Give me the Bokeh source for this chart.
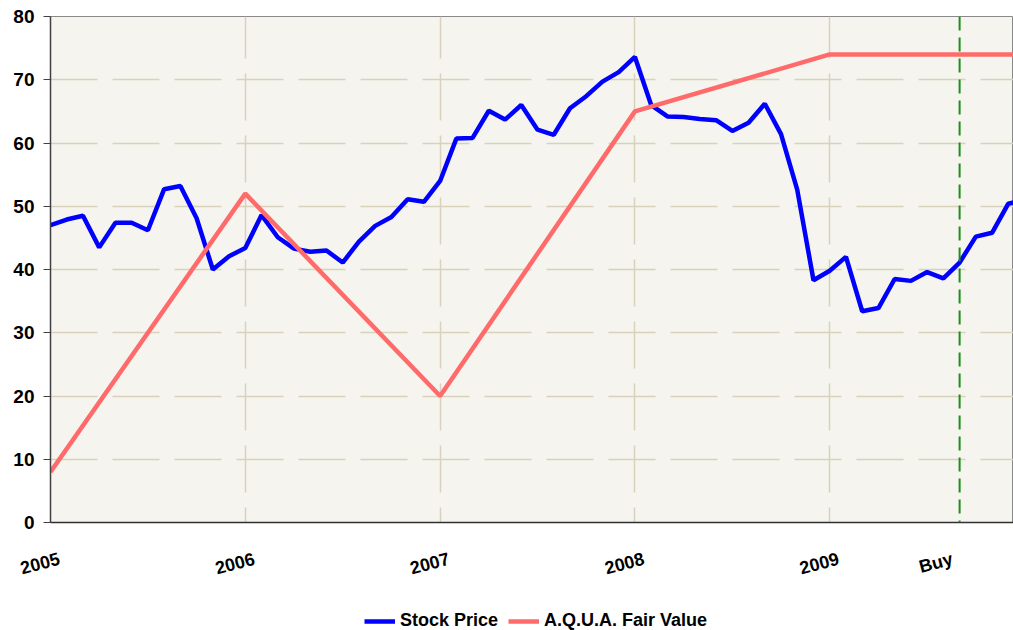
from bokeh.plotting import figure
from bokeh.layouts import column
from bokeh.models import FixedTicker, Span, Legend, LegendItem, Range1d
from bokeh.embed import file_html
from bokeh.resources import INLINE

# Monthly stock price, Jan 2005 .. Jan 2010 (x = months since Jan 2005)
stock_price = [47.0, 47.9, 48.5, 43.5, 47.4, 47.4, 46.2, 52.7, 53.2, 48.1, 40.0, 42.1,
               43.4, 48.6, 45.1, 43.3, 42.8, 43.0, 41.1, 44.4, 46.9, 48.3, 51.1, 50.7,
               54.0, 60.7, 60.8, 65.1, 63.7, 66.0, 62.1, 61.3, 65.5, 67.4, 69.7, 71.2,
               73.6, 66.0, 64.2, 64.1, 63.8, 63.6, 61.9, 63.2, 66.2, 61.4, 52.6, 38.3,
               39.8, 42.0, 33.4, 33.9, 38.5, 38.2, 39.6, 38.6, 41.1, 45.2, 45.8, 50.4,
               51.0]
stock_months = list(range(len(stock_price)))

fair_months = [0, 12, 24, 36, 48, 60]
fair_value = [8, 52, 20, 65, 74, 74]

tick_months = [0, 12, 24, 36, 48, 55]
tick_labels = ["2005", "2006", "2007", "2008", "2009", "Buy"]
buy_month = 56
y_ticks = [0, 10, 20, 30, 40, 50, 60, 70, 80]

FONT = "Liberation Sans"
BLUE, SALMON = "#0000FF", "#FF6B6B"

W, H, LEG_H = 1013, 600, 30
LEFT, TOP = 50, 16
FRAME_H = 506
X_END = 59.32
px_per_month = (W - LEFT) / X_END
label_shift = 9 / px_per_month  # rotated labels sit a little right of their tick

p = figure(width=W, height=H, output_backend="svg", toolbar_location=None,
           x_range=Range1d(0, X_END), y_range=Range1d(0, 80),
           min_border_left=LEFT, min_border_right=0, min_border_top=TOP,
           min_border_bottom=H - TOP - FRAME_H)

p.background_fill_color = "#F5F4EE"
p.border_fill_color = "white"
p.outline_line_color = "#888888"
p.outline_line_width = 1

# grids
p.xgrid.ticker = FixedTicker(ticks=[12, 24, 36, 48])
p.ygrid.ticker = FixedTicker(ticks=[10, 20, 30, 40, 50, 60, 70])
for g in (p.xgrid, p.ygrid):
    g.grid_line_color = "#D8D2BC"
    g.grid_line_width = 1.5
    g.grid_line_dash = "47 15"
p.xgrid.grid_line_dash_offset = 32

# y axis
p.yaxis.ticker = FixedTicker(ticks=y_ticks)
p.yaxis.major_tick_out = 7
p.yaxis.major_tick_in = 0
p.yaxis.minor_tick_line_color = None
p.yaxis.axis_line_color = "#404040"
p.yaxis.axis_line_width = 1.5
p.yaxis.major_tick_line_color = "#404040"
p.yaxis.major_label_standoff = 9
p.yaxis.major_label_text_font = FONT
p.yaxis.major_label_text_font_style = "bold"
p.yaxis.major_label_text_font_size = "19px"
p.yaxis.major_label_text_color = "black"

# x axis
label_pos = [m + label_shift for m in tick_months]
p.xaxis.ticker = FixedTicker(ticks=label_pos)
p.xaxis.major_label_overrides = {pos: lab for pos, lab in zip(label_pos, tick_labels)}
p.xaxis.major_tick_line_color = None
p.xaxis.major_tick_out = 0
p.xaxis.major_tick_in = 0
p.xaxis.minor_tick_line_color = None
p.xaxis.minor_tick_out = 0
p.xaxis.axis_line_color = "#303030"
p.xaxis.axis_line_width = 1.5
p.xaxis.major_label_orientation = 0.26
p.xaxis.major_label_standoff = 36
p.xaxis.major_label_text_font = FONT
p.xaxis.major_label_text_font_style = "bold"
p.xaxis.major_label_text_font_size = "18px"
p.xaxis.major_label_text_color = "black"

r_stock = p.line(stock_months, stock_price, line_color=BLUE, line_width=4.5)
r_fair = p.line(fair_months, fair_value, line_color=SALMON, line_width=4.5)

buy = Span(location=buy_month, dimension="height", line_color="#1A8F1A",
           line_width=2, line_dash="14 7", level="overlay")
p.add_layout(buy)

# legend strip below the chart (placeholder renderers lie outside its view)
lf = figure(width=W, height=LEG_H, output_backend="svg", toolbar_location=None,
            x_range=Range1d(0, 1), y_range=Range1d(0, 1),
            x_axis_type=None, y_axis_type=None,
            min_border=0, min_border_left=0, min_border_right=0,
            min_border_top=0, min_border_bottom=0)
lf.outline_line_color = None
lf.xgrid.visible = False
lf.ygrid.visible = False
lf.background_fill_color = "white"
k_stock = lf.line([5, 6], [5, 6], line_color=BLUE, line_width=4.5)
k_fair = lf.line([5, 6], [5, 6], line_color=SALMON, line_width=4.5)

legend = Legend(items=[LegendItem(label="Stock Price", renderers=[k_stock]),
                       LegendItem(label="A.Q.U.A. Fair Value", renderers=[k_fair])],
                orientation="horizontal", location=(314, -1))
legend.label_text_font = FONT
legend.label_text_font_style = "bold"
legend.label_text_font_size = "18px"
legend.label_text_color = "black"
legend.glyph_width = 31
legend.glyph_height = 18
legend.label_height = 18
legend.label_standoff = 5
legend.spacing = 10
legend.padding = 0
legend.margin = 0
legend.border_line_color = None
legend.background_fill_alpha = 0
lf.add_layout(legend)

layout = column(p, lf, spacing=0)
open("out.html", "w").write(file_html(layout, INLINE))
